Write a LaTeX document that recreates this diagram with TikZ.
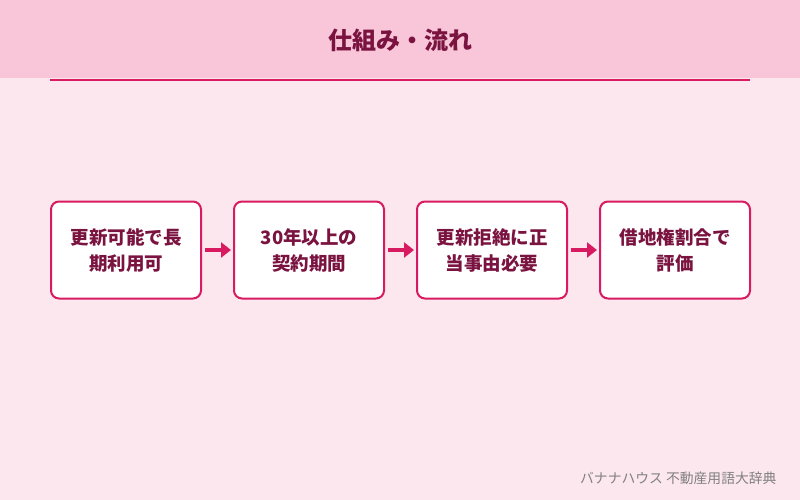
\documentclass[tikz,border=0pt]{standalone}
\usepackage{fontspec}
\setmainfont{Noto Sans CJK JP}
\usetikzlibrary{arrows.meta}
\definecolor{bg}{HTML}{FDE7EE}
\definecolor{hdr}{HTML}{F8C6D8}
\definecolor{acc}{HTML}{D81B60}
\definecolor{txt}{HTML}{7A1340}
\begin{document}
\begin{tikzpicture}[x=1pt,y=-1pt,
  stepbox/.style={draw=acc,line width=2pt,fill=white,rounded corners=8pt,minimum width=150pt,minimum height=97pt,align=center,font=\bfseries\fontsize{18.5}{26}\selectfont,text=txt},
  flow/.style={draw=acc,line width=3.5pt,-{Triangle[length=10pt,width=15pt]},shorten <=3pt,shorten >=2pt}]
\useasboundingbox (0,0) rectangle (800,500);
\fill[bg] (0,0) rectangle (800,500);
\fill[hdr] (0,0) rectangle (800,78);
\node[font=\bfseries\fontsize{24}{28}\selectfont,text=txt] (title) at (400,40) {仕組み・流れ};
\coordinate (l1) at (50,80); \coordinate (l2) at (750,80);
\draw[acc,line width=1.2pt] (l1) -- (l2);
\node[stepbox] (b1) at (126,250) {更新可能で長\\期利用可};
\node[stepbox] (b2) at (309,250) {30年以上の\\契約期間};
\node[stepbox] (b3) at (492,250) {更新拒絶に正\\当事由必要};
\node[stepbox] (b4) at (675,250) {借地権割合で\\評価};
\draw[flow] (b1) -- (b2);
\draw[flow] (b2) -- (b3);
\draw[flow] (b3) -- (b4);
\node[anchor=east,text=gray,font=\fontsize{13.8}{16}\selectfont] (foot) at (780,478) {バナナハウス 不動産用語大辞典};
\end{tikzpicture}
\end{document}
